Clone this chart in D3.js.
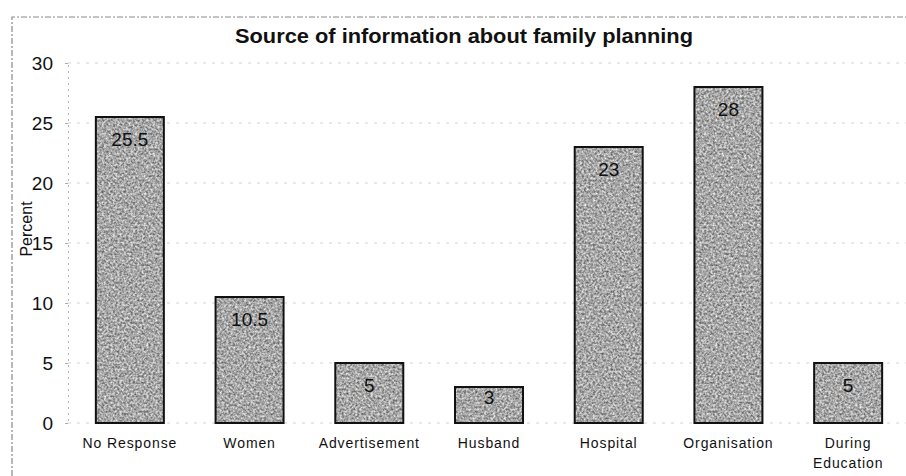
<!DOCTYPE html>
<html>
<head>
<meta charset="utf-8">
<script src="https://cdn.jsdelivr.net/npm/d3@7"></script>
<style>
  html, body { margin: 0; padding: 0; background: #fff; }
  svg { display: block; font-family: "Liberation Sans", Arial, sans-serif; }
</style>
</head>
<body>
<svg id="chart" width="906" height="476"></svg>
<script>
// Source of information about family planning (percent of respondents)
const categories = ["No Response", "Women", "Advertisement", "Husband", "Hospital", "Organisation", "During Education"];
const percents = [25.5, 10.5, 5, 3, 23, 28, 5];
const yTicks = [0, 5, 10, 15, 20, 25, 30];
const titleText = "Source of information about family planning";
const yLabel = "Percent";

const svg = d3.select("#chart");
const W = 906, H = 476;
const plot = { left: 68, right: 908, top: 63, bottom: 423 };

// grainy grey fill for the bars
const defs = svg.append("defs");
const grain = defs.append("filter").attr("id", "grain")
  .attr("x", 0).attr("y", 0).attr("width", "100%").attr("height", "100%")
  .attr("color-interpolation-filters", "sRGB");
grain.append("feTurbulence").attr("type", "fractalNoise")
  .attr("baseFrequency", 0.45).attr("numOctaves", 2).attr("seed", 7).attr("result", "n");
grain.append("feColorMatrix").attr("in", "n").attr("type", "matrix")
  .attr("values", "0.85 0 0 0 0.23  0.85 0 0 0 0.23  0.85 0 0 0 0.23  0 0 0 0 1");

// outer chart frame (top and left edges visible)
svg.append("path")
  .attr("d", `M12,${H}V17H${W}`)
  .attr("fill", "none").attr("stroke", "#8a8a8a").attr("stroke-width", 1.2)
  .attr("stroke-dasharray", "6,2,2,2");

const x = d3.scaleBand().domain(categories).range([plot.left + 2, plot.right]).paddingInner(0.432).paddingOuter(0.216);
const y = d3.scaleLinear().domain([0, 30]).range([plot.bottom, plot.top]);

// gridlines
svg.append("g").selectAll("line").data(yTicks).join("line")
  .attr("x1", plot.left).attr("x2", W)
  .attr("y1", d => y(d)).attr("y2", d => y(d))
  .attr("stroke", "#d2d2d2").attr("stroke-width", 1)
  .attr("stroke-dasharray", "3,6");

// y axis
const yAxis = svg.append("g").attr("transform", `translate(${plot.left},0)`)
  .call(d3.axisLeft(y).tickValues(yTicks).tickSize(3).tickPadding(12));
yAxis.select(".domain").attr("stroke", "#b5b5b5").attr("stroke-dasharray", "2,4");
yAxis.selectAll(".tick line").attr("stroke", "#aaa");
yAxis.selectAll("text").attr("font-size", 19).attr("fill", "#111")
  .attr("font-family", "'Liberation Sans', Arial, sans-serif");

// y axis title
svg.append("text")
  .attr("transform", `translate(32,229) rotate(-90)`)
  .attr("text-anchor", "middle").attr("font-size", 16).attr("fill", "#111")
  .text(yLabel);

// bars
const bars = svg.append("g").selectAll("g").data(categories).join("g");
bars.append("rect")
  .attr("x", d => x(d)).attr("width", x.bandwidth())
  .attr("y", (d, i) => y(percents[i])).attr("height", (d, i) => y(0) - y(percents[i]))
  .attr("filter", "url(#grain)").attr("fill", "#999");
bars.append("rect")
  .attr("x", d => x(d)).attr("width", x.bandwidth())
  .attr("y", (d, i) => y(percents[i])).attr("height", (d, i) => y(0) - y(percents[i]))
  .attr("fill", "none").attr("stroke", "#111").attr("stroke-width", 2);

// value labels inside bar tops
bars.append("text")
  .attr("x", d => x(d) + x.bandwidth() / 2)
  .attr("y", (d, i) => {
    const h = y(0) - y(percents[i]);
    return y(percents[i]) + Math.min(22, h - 26) + 7;
  })
  .attr("text-anchor", "middle").attr("font-size", 19).attr("fill", "#111")
  .text((d, i) => percents[i]);

// x category labels (wrapped onto two lines where long)
const xl = svg.append("g").selectAll("text").data(categories).join("text")
  .attr("x", d => x(d) + x.bandwidth() / 2)
  .attr("y", 448)
  .attr("text-anchor", "middle").attr("font-size", 14).attr("fill", "#111")
  .attr("letter-spacing", 0.9);
xl.each(function (d) {
  const words = d === "During Education" ? ["During", "Education"] : [d];
  const t = d3.select(this);
  words.forEach((w, k) => {
    t.append("tspan").attr("x", x(d) + x.bandwidth() / 2).attr("dy", k === 0 ? 0 : 19.5).text(w);
  });
});

// title
svg.append("text")
  .attr("x", 464).attr("y", 43)
  .attr("text-anchor", "middle").attr("font-size", 21).attr("font-weight", "bold").attr("fill", "#111")
  .attr("textLength", 458).attr("lengthAdjust", "spacingAndGlyphs")
  .text(titleText);
</script>
</body>
</html>
